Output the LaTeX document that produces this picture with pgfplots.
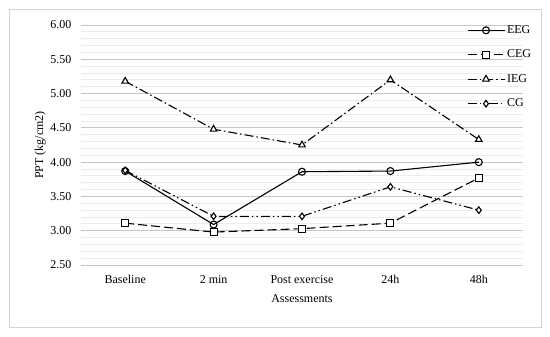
\documentclass[border=0pt]{standalone}
\usepackage{pgfplots}
\pgfplotsset{compat=1.18}
\usepackage{fontspec}
\setmainfont{Liberation Serif}
\begin{document}
\begin{tikzpicture}
\fill[white] (-81pt,-72pt) rectangle (469pt,265pt);
\draw[gray!35, line width=0.8pt] (-72pt,-62pt) rectangle (460pt,256pt);
\begin{axis}[
  at={(0pt,0pt)}, anchor=south west,
  scale only axis, width=442pt, height=240pt,
  xmin=-0.5, xmax=4.5, ymin=2.5, ymax=6.0,
  xtick={0,1,2,3,4},
  xticklabels={Baseline,2 min,Post exercise,24h,48h},
  ytick={2.5,3,3.5,4,4.5,5,5.5,6},
  minor ytick={2.6,2.7,2.8,2.9,3.1,3.2,3.3,3.4,3.6,3.7,3.8,3.9,4.1,4.2,4.3,4.4,4.6,4.7,4.8,4.9,5.1,5.2,5.3,5.4,5.6,5.7,5.8,5.9},
  ymajorgrids, yminorgrids,
  major grid style={gray!45, line width=0.8pt},
  minor grid style={gray!15, line width=0.8pt},
  axis line style={draw=none},
  major tick length=0pt, minor tick length=0pt,
  yticklabel style={/pgf/number format/fixed, /pgf/number format/fixed zerofill, /pgf/number format/precision=2, xshift=-6pt},
  xticklabel style={yshift=-7pt},
  tick label style={font=\fontsize{12}{14}\selectfont},
  label style={font=\fontsize{12}{14}\selectfont},
  /pgf/number format/assume math mode=true,
  xlabel={Assessments},
  ylabel={PPT (kg/cm2)},
  xlabel style={yshift=-4pt},
  ylabel style={yshift=-2pt},
  legend style={at={(rel axis cs:1.03,1.015)}, anchor=north east, draw=none, fill=none,
    font=\fontsize{12}{14}\selectfont, row sep=11pt, cells={anchor=west}},
  legend image code/.code={\draw[mark repeat=2,mark phase=2] plot coordinates {(0cm,0cm) (0.65cm,0cm) (1.3cm,0cm)};},
  every axis plot/.append style={line width=1.1pt, black},
  clip=false,
]
\addplot[mark=o, mark size=3.5pt, mark options={solid, fill=white}] coordinates {(0,3.87) (1,3.09) (2,3.86) (3,3.87) (4,4.00)};
\addlegendentry{EEG}
\addplot[dash pattern=on 9pt off 4pt, mark=square*, mark size=3.5pt, mark options={solid, fill=white}] coordinates {(0,3.11) (1,2.98) (2,3.03) (3,3.11) (4,3.77)};
\addlegendentry{CEG}
\addplot[dash pattern=on 9pt off 3pt on 1.5pt off 3pt, mark=triangle*, mark size=3.8pt, mark options={solid, fill=white}] coordinates {(0,5.18) (1,4.48) (2,4.25) (3,5.20) (4,4.33)};
\addlegendentry{IEG}
\addplot[dash pattern=on 9pt off 3pt on 1.5pt off 3pt on 1.5pt off 3pt, mark=diamond*, mark size=3.3pt, mark options={solid, fill=white}] coordinates {(0,3.88) (1,3.21) (2,3.21) (3,3.64) (4,3.30)};
\addlegendentry{CG}
\end{axis}
\end{tikzpicture}
\end{document}
